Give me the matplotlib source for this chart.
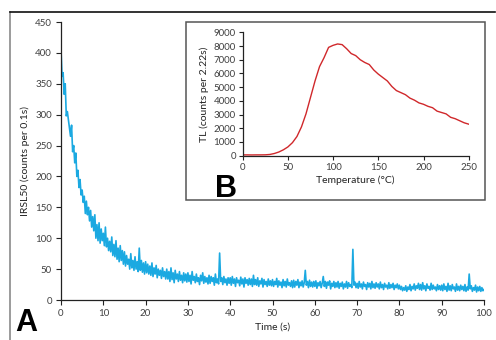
import numpy as np
import matplotlib
matplotlib.use("Agg")
import matplotlib.pyplot as plt
from matplotlib.lines import Line2D
from matplotlib.patches import Rectangle

# ---- IRSL50 decay (counts per 0.1 s), sampled every 0.25 s ----
irsl_step = 0.25
irsl_counts = [
    405, 362, 368, 333, 350, 298, 305, 292, 280, 265, 283, 240, 250, 222, 238, 200, 210, 182, 195, 170,
    178, 158, 168, 140, 160, 138, 150, 128, 145, 118, 135, 112, 138, 100, 122, 96, 125, 92, 115, 96,
    108, 88, 118, 86, 100, 80, 95, 78, 102, 72, 90, 70, 96, 66, 84, 62, 88, 64, 80, 58,
    78, 55, 72, 58, 66, 50, 75, 52, 64, 48, 70, 50, 62, 46, 84, 48, 64, 45, 60, 42,
    62, 44, 58, 42, 55, 40, 60, 38, 52, 42, 56, 36, 50, 40, 48, 35, 52, 38, 46, 34,
    50, 34, 46, 30, 52, 33, 44, 28, 48, 34, 42, 30, 46, 32, 40, 28, 44, 31, 42, 29,
    44, 30, 40, 26, 46, 32, 38, 28, 42, 30, 36, 25, 40, 31, 44, 27, 38, 29, 36, 26,
    40, 27, 38, 30, 36, 24, 42, 28, 34, 26, 76, 30, 36, 25, 38, 28, 34, 24, 36, 27,
    36, 24, 38, 27, 34, 22, 36, 28, 32, 23, 37, 26, 34, 21, 36, 27, 33, 24, 35, 25,
    34, 22, 40, 25, 33, 24, 36, 22, 31, 26, 35, 21, 33, 25, 30, 22, 34, 24, 31, 23,
    33, 22, 30, 25, 35, 21, 31, 24, 29, 20, 33, 23, 30, 21, 34, 24, 28, 22, 31, 20,
    32, 21, 30, 24, 33, 20, 29, 23, 31, 21, 28, 48, 24, 30, 20, 32, 22, 29, 21, 30,
    22, 31, 19, 28, 23, 30, 20, 27, 38, 22, 30, 19, 29, 24, 31, 18, 27, 22, 30, 20,
    28, 21, 30, 19, 27, 22, 29, 18, 26, 21, 30, 19, 28, 22, 25, 20, 82, 24, 29, 20,
    27, 19, 30, 21, 26, 18, 29, 22, 25, 17, 28, 21, 27, 18, 30, 20, 26, 19, 28, 21,
    26, 18, 29, 20, 25, 17, 27, 21, 24, 18, 28, 19, 25, 20, 27, 17, 24, 20, 26, 18,
    24, 17, 22, 15, 20, 16, 23, 14, 21, 17, 25, 15, 22, 18, 26, 16, 23, 19, 27, 17,
    25, 16, 28, 18, 23, 15, 26, 19, 22, 16, 27, 17, 24, 18, 21, 15, 25, 17, 23, 16,
    24, 15, 26, 17, 22, 14, 27, 16, 23, 15, 25, 18, 21, 14, 26, 16, 22, 15, 24, 17,
    22, 15, 25, 14, 21, 16, 42, 18, 23, 14, 20, 16, 24, 13, 21, 15, 22, 14, 20, 15,
    17,
]
irsl_time = np.arange(len(irsl_counts)) * irsl_step

# ---- TL glow curve (counts per 2.22 s) ----
tl_temp = list(range(0, 251, 5))
tl_counts = [
    60, 60, 55, 60, 60, 65, 90, 160, 270, 430,
    640, 950, 1400, 2100, 3050, 4250, 5450, 6500, 7150, 7900,
    8050, 8150, 8100, 7800, 7450, 7300, 7000, 6800, 6650, 6250,
    5950, 5700, 5450, 5050, 4750, 4600, 4450, 4200, 4050, 3850,
    3750, 3600, 3500, 3250, 3150, 3050, 2800, 2700, 2550, 2400,
    2300,
]

main_xticks = list(range(0, 101, 10))
main_yticks = list(range(0, 451, 50))
tl_xticks = list(range(0, 251, 50))
tl_yticks = list(range(0, 9001, 1000))

plt.rcParams['font.family'] = ['Lato', 'DejaVu Sans']
tick_color = '#404040'

fig = plt.figure(figsize=(4.96, 3.40), dpi=100)

# outer frame lines
fig.add_artist(Line2D([10/496, 10/496], [0, 1 - 12/340], transform=fig.transFigure,
                      color='#8a8a8a', lw=1.2))
fig.add_artist(Line2D([10/496, 495/496], [1 - 12/340, 1 - 12/340], transform=fig.transFigure,
                      color='#111111', lw=1.2))

ax = fig.add_axes([61/496, 1 - 300/340, 423/496, 278/340])
ax.plot(irsl_time, irsl_counts, color='#1BA9E1', lw=1.2)
ax.set_xlim(0, 100)
ax.set_ylim(0, 450)
ax.set_xticks(main_xticks)
ax.set_yticks(main_yticks)
for s in ['top', 'right']:
    ax.spines[s].set_visible(False)
for s in ['left', 'bottom']:
    ax.spines[s].set_color('#222222')
    ax.spines[s].set_linewidth(0.9)
ax.tick_params(direction='out', length=3.5, width=0.8, labelsize=7, colors='#222222',
               labelcolor=tick_color, pad=3)
ax.set_xlabel('Time (s)', fontsize=7.5, color='#222222', labelpad=3)
ax.set_ylabel('IRSL50 (counts per 0.1s)', fontsize=7.5, color='#222222', labelpad=4)

# inset frame
fig.add_artist(Rectangle((186/496, 1 - 200/340), (485 - 186)/496, (200 - 22)/340,
                         transform=fig.transFigure, fill=True, facecolor='white',
                         edgecolor='#555555', lw=1.1, zorder=3))

ins = fig.add_axes([242.7/496, 1 - 155.7/340, 226/496, 123.4/340], zorder=4)
ins.plot(tl_temp, tl_counts, color='#D0282B', lw=1.0)
ins.set_xlim(0, 250)
ins.set_ylim(0, 9000)
ins.set_xticks(tl_xticks)
ins.set_yticks(tl_yticks)
for s in ['top', 'right']:
    ins.spines[s].set_visible(False)
for s in ['left', 'bottom']:
    ins.spines[s].set_color('#222222')
    ins.spines[s].set_linewidth(0.9)
ins.tick_params(direction='out', length=3, width=0.8, labelsize=7, colors='#222222',
                labelcolor=tick_color, pad=2)
ins.set_xlabel('Temperature (°C)', fontsize=7.5, color='#222222', labelpad=3)
ins.set_ylabel('TL (counts per 2.22s)', fontsize=7.5, color='#222222', labelpad=3)

fig.text(15/496, 2/340, 'A', fontsize=22, fontweight='bold', family='Liberation Sans',
         ha='left', va='bottom', color='black')
fig.text(215/496, 1 - 197/340, 'B', fontsize=22, fontweight='bold', family='Liberation Sans',
         ha='left', va='baseline', color='black', zorder=5)

fig.savefig('out.png', dpi=100)
